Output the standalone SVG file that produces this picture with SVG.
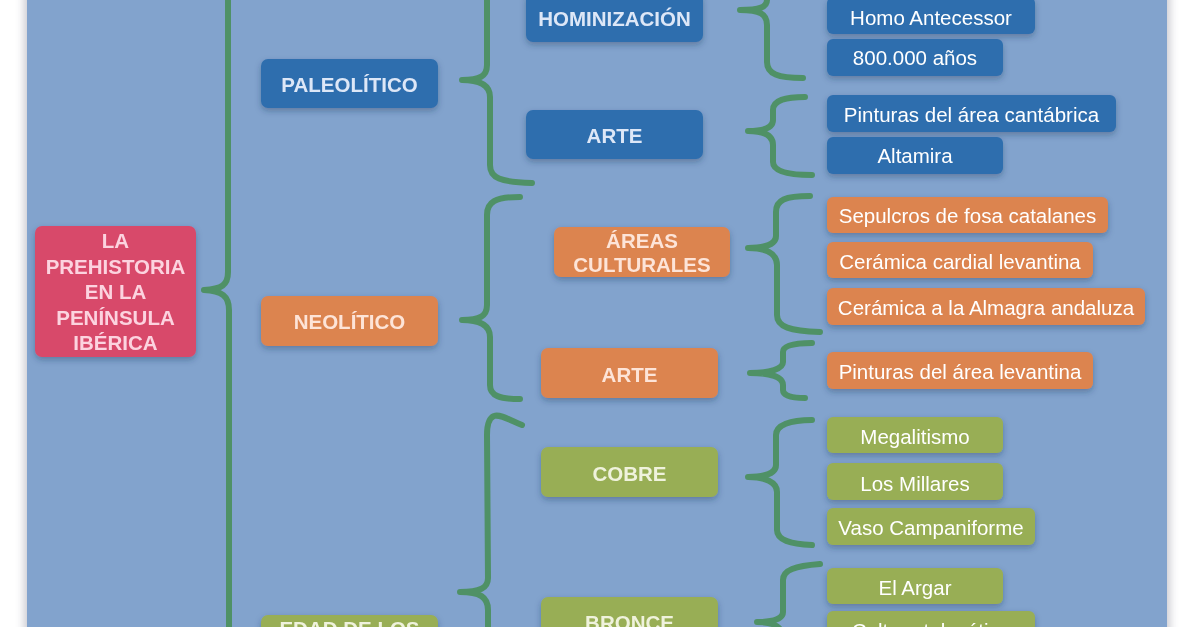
<svg xmlns="http://www.w3.org/2000/svg" width="1194" height="627" viewBox="0 0 1194 627">
<defs>
<filter id="sh" x="-20%" y="-30%" width="140%" height="170%">
<feDropShadow dx="0" dy="3" stdDeviation="3" flood-color="#1d3557" flood-opacity="0.35"/>
</filter>
<filter id="psh" x="-5%" y="-5%" width="110%" height="110%">
<feGaussianBlur stdDeviation="4"/>
</filter>
<style>
.hd{font-family:"Liberation Sans",Arial,Helvetica,sans-serif;font-weight:bold;font-size:20.5px;text-anchor:middle}
.lf{font-family:"Liberation Sans",Arial,Helvetica,sans-serif;font-size:20.5px;fill:#ffffff;text-anchor:middle}
.blue{fill:#2f6eae}
.orange{fill:#dc844f}
.green{fill:#98ae54}
.pink{fill:#d8496b}
.tb{fill:#dde7f7}
.to{fill:#fde4d8}
.tg{fill:#eff2dc}
.tp{fill:#fcd3df}
.br{fill:none;stroke:#4f9166;stroke-width:6;stroke-linecap:round;stroke-linejoin:round}
</style>
</defs>
<rect x="0" y="0" width="1194" height="627" fill="#ffffff"/>
<rect x="24" y="-10" width="1146" height="650" fill="#8a8a9a" opacity="0.45" filter="url(#psh)"/>
<rect x="27" y="-10" width="1140" height="650" fill="#82a3cd"/>

<g id="connectors">
<path class="br" d="M 228 -10 L 228 272 C 228 285 222 289 204 290 C 222 291 229 296 229 310 L 229 640"/>
<path class="br" d="M 487 -10 L 487 65 C 487 76 480 80 462 80 C 480 80 490 85 490 97 L 490 165 C 490 178 500 182 532 183"/>
<path class="br" d="M 520 197 C 495 197 487 202 487 215 L 487 305 C 487 316 480 320 462 320 C 480 320 490 325 490 337 L 490 385 C 490 396 500 399 520 399"/>
<path class="br" d="M 522 425 C 510 420 500 414 494 416 C 489 418 487 425 487 435 L 488 578 C 488 588 480 592 460 592 C 480 592 488 597 488 610 L 488 640"/>
<path class="br" d="M 767 -10 L 767 0 C 767 7 760 10 740 10 C 760 10 767 14 767 25 L 767 62 C 767 74 778 78 803 78"/>
<path class="br" d="M 805 97 C 785 97 773 100 773 110 L 773 120 C 773 127 765 131 748 131 C 765 131 773 136 773 145 L 773 162 C 773 172 790 175 812 175"/>
<path class="br" d="M 810 196 C 785 196 776 200 776 212 L 776 236 C 776 244 765 248 748 248 C 765 248 777 253 777 265 L 777 315 C 777 327 790 331 820 332"/>
<path class="br" d="M 812 343 C 793 343 783 346 783 352 L 783 362 C 783 369 770 373 750 373 C 770 373 783 377 783 385 L 783 390 C 783 396 793 398 805 398"/>
<path class="br" d="M 812 420 C 790 420 776 425 776 435 L 776 465 C 776 473 765 477 748 477 C 765 477 777 482 777 492 L 777 530 C 777 540 790 544 812 545"/>
<path class="br" d="M 820 564 C 795 566 783 570 783 580 L 783 612 C 783 618 775 622 757 622 C 775 622 783 627 783 640"/>
</g>

<g id="root" filter="url(#sh)">
<rect class="pink" x="35" y="226" width="161" height="131" rx="7"/>
<text class="hd tp" x="115.5" y="248">LA</text>
<text class="hd tp" x="115.5" y="274">PREHISTORIA</text>
<text class="hd tp" x="115.5" y="299">EN LA</text>
<text class="hd tp" x="115.5" y="325">PENÍNSULA</text>
<text class="hd tp" x="115.5" y="350">IBÉRICA</text>
</g>

<g id="paleolitico" filter="url(#sh)">
<rect class="blue" x="261" y="59" width="177" height="49" rx="7"/>
<text class="hd tb" x="349.5" y="92">PALEOLÍTICO</text>
</g>
<g id="neolitico" filter="url(#sh)">
<rect class="orange" x="261" y="296" width="177" height="50" rx="7"/>
<text class="hd to" x="349.5" y="329">NEOLÍTICO</text>
</g>
<g id="edad-metales" filter="url(#sh)">
<rect class="green" x="261" y="615" width="177" height="50" rx="7"/>
<text class="hd tg" x="349.5" y="636">EDAD DE LOS</text>
</g>

<g id="hominizacion" filter="url(#sh)">
<rect class="blue" x="526" y="-8" width="177" height="50" rx="7"/>
<text class="hd tb" x="614.5" y="26">HOMINIZACIÓN</text>
</g>
<g id="arte-paleo" filter="url(#sh)">
<rect class="blue" x="526" y="110" width="177" height="49" rx="7"/>
<text class="hd tb" x="614.5" y="143">ARTE</text>
</g>
<g id="areas-culturales" filter="url(#sh)">
<rect class="orange" x="554" y="227" width="176" height="50" rx="7"/>
<text class="hd to" x="642" y="248">ÁREAS</text>
<text class="hd to" x="642" y="272">CULTURALES</text>
</g>
<g id="arte-neo" filter="url(#sh)">
<rect class="orange" x="541" y="348" width="177" height="50" rx="7"/>
<text class="hd to" x="629.5" y="382">ARTE</text>
</g>
<g id="cobre" filter="url(#sh)">
<rect class="green" x="541" y="447" width="177" height="50" rx="7"/>
<text class="hd tg" x="629.5" y="481">COBRE</text>
</g>
<g id="bronce" filter="url(#sh)">
<rect class="green" x="541" y="597" width="177" height="50" rx="7"/>
<text class="hd tg" x="629.5" y="630">BRONCE</text>
</g>

<g id="homo-antecessor" filter="url(#sh)">
<rect class="blue" x="827" y="-3" width="208" height="37" rx="6"/>
<text class="lf" x="931" y="25">Homo Antecessor</text>
</g>
<g id="800000" filter="url(#sh)">
<rect class="blue" x="827" y="39" width="176" height="37" rx="6"/>
<text class="lf" x="915" y="65">800.000 años</text>
</g>
<g id="pinturas-cantabrica" filter="url(#sh)">
<rect class="blue" x="827" y="95" width="289" height="37" rx="6"/>
<text class="lf" x="971.5" y="122">Pinturas del área cantábrica</text>
</g>
<g id="altamira" filter="url(#sh)">
<rect class="blue" x="827" y="137" width="176" height="37" rx="6"/>
<text class="lf" x="915" y="163">Altamira</text>
</g>
<g id="sepulcros" filter="url(#sh)">
<rect class="orange" x="827" y="197" width="281" height="36" rx="6"/>
<text class="lf" x="967.5" y="223">Sepulcros de fosa catalanes</text>
</g>
<g id="ceramica-cardial" filter="url(#sh)">
<rect class="orange" x="827" y="242" width="266" height="36" rx="6"/>
<text class="lf" x="960" y="269">Cerámica cardial levantina</text>
</g>
<g id="ceramica-almagra" filter="url(#sh)">
<rect class="orange" x="827" y="288" width="318" height="37" rx="6"/>
<text class="lf" x="986" y="315">Cerámica a la Almagra andaluza</text>
</g>
<g id="pinturas-levantina" filter="url(#sh)">
<rect class="orange" x="827" y="352" width="266" height="37" rx="6"/>
<text class="lf" x="960" y="379">Pinturas del área levantina</text>
</g>
<g id="megalitismo" filter="url(#sh)">
<rect class="green" x="827" y="417" width="176" height="36" rx="6"/>
<text class="lf" x="915" y="444">Megalitismo</text>
</g>
<g id="los-millares" filter="url(#sh)">
<rect class="green" x="827" y="463" width="176" height="37" rx="6"/>
<text class="lf" x="915" y="491">Los Millares</text>
</g>
<g id="vaso-campaniforme" filter="url(#sh)">
<rect class="green" x="827" y="508" width="208" height="37" rx="6"/>
<text class="lf" x="931" y="535">Vaso Campaniforme</text>
</g>
<g id="el-argar" filter="url(#sh)">
<rect class="green" x="827" y="568" width="176" height="36" rx="6"/>
<text class="lf" x="915" y="595">El Argar</text>
</g>
<g id="cultura-talayotica" filter="url(#sh)">
<rect class="green" x="827" y="611" width="208" height="37" rx="6"/>
<text class="lf" x="931" y="638">Cultura talayótica</text>
</g>
</svg>
